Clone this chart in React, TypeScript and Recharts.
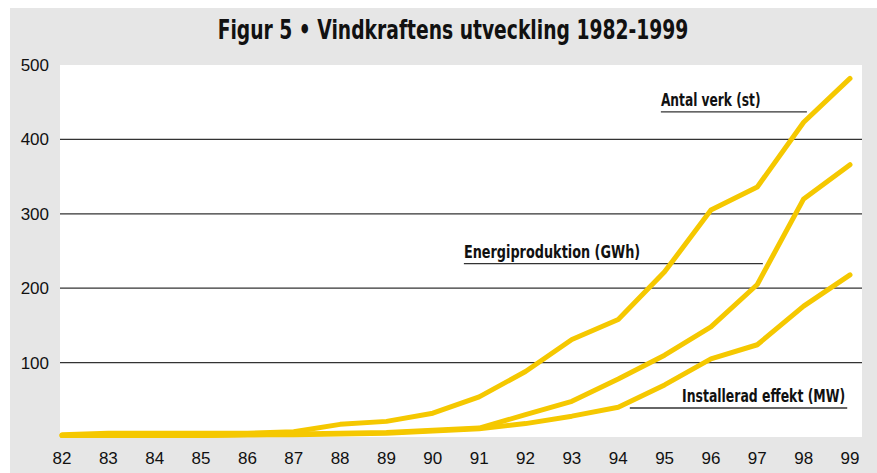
import { LineChart, Line, XAxis, YAxis, CartesianGrid, ReferenceLine } from "recharts";

// År (82 = 1982)
const years = [82, 83, 84, 85, 86, 87, 88, 89, 90, 91, 92, 93, 94, 95, 96, 97, 98, 99];

// Antal verk (st)
const antalVerk = [3, 5, 5, 5, 5, 7, 17, 21, 32, 54, 88, 131, 158, 222, 305, 336, 423, 482];
// Energiproduktion (GWh)
const energi = [2, 2, 2, 2, 3, 4, 5, 6, 9, 12, 30, 48, 78, 110, 148, 205, 320, 366];
// Installerad effekt (MW)
const effekt = [2, 2, 2, 2, 3, 3, 4, 5, 8, 11, 18, 28, 40, 70, 105, 124, 176, 218];

const yTicks = [100, 200, 300, 400, 500];
const gridValues = [100, 200, 300, 400];

const chartData = years.map((year, i) => ({
  year,
  antal: antalVerk[i],
  energi: energi[i],
  effekt: effekt[i],
}));

const LINE_COLOR = "#f5c800";
const LABEL_FONT = "'DejaVu Sans Condensed', 'Liberation Sans Narrow', sans-serif";
const TICK_FONT = "'Liberation Sans', Arial, sans-serif";

// series labels with their underline, in data units
const annotations = [
  { text: "Antal verk (st)", x1: 94.92, x2: 98.07, y: 437, align: "start", sx: 0.8 },
  { text: "Energiproduktion (GWh)", x1: 90.67, x2: 97.12, y: 233, align: "start", sx: 0.84 },
  { text: "Installerad effekt (MW)", x1: 94.25, x2: 98.94, y: 39, align: "end", sx: 0.815 },
];

function AnnotationLabel(props: any) {
  const { viewBox, text, align, sx } = props;
  if (!viewBox) return null;
  const x = align === "end" ? viewBox.x + viewBox.width - 2 : viewBox.x;
  return (
    <text
      x={0}
      y={0}
      transform={`translate(${x},${viewBox.y - 6}) scale(${sx},1)`}
      textAnchor={align}
      fontFamily={LABEL_FONT}
      fontWeight={700}
      fontSize={17}
      fill="#111"
    >
      {text}
    </text>
  );
}

export default function App() {
  return (
    <div style={{ position: "absolute", left: 0, top: 0, width: 877, height: 473, background: "#fff" }}>
      <div style={{ position: "absolute", left: 10, top: 8, width: 867, height: 465, background: "#e6e6e6" }} />
      <div
        style={{
          position: "absolute",
          left: 453,
          top: 15,
          transform: "translateX(-50%) scaleX(0.8)",
          whiteSpace: "nowrap",
          fontFamily: LABEL_FONT,
          fontWeight: 700,
          fontSize: 26,
          color: "#111",
        }}
      >
        Figur 5 • Vindkraftens utveckling 1982-1999
      </div>
      <div style={{ position: "absolute", left: 0, top: 0 }}>
        <LineChart
          width={877}
          height={473}
          data={chartData}
          margin={{ top: 65, right: 15, bottom: 0, left: 0 }}
        >
          <CartesianGrid
            fill="#fff"
            vertical={false}
            horizontalValues={gridValues}
            stroke="#333"
            strokeWidth={1.2}
          />
          <XAxis
            dataKey="year"
            type="number"
            domain={[82, 99]}
            ticks={years}
            interval={0}
            height={36}
            padding={{ left: 2, right: 12 }}
            axisLine={false}
            tickLine={false}
            tickSize={0}
            tickMargin={15}
            tick={{ fill: "#111", fontSize: 17, fontFamily: TICK_FONT }}
          />
          <YAxis
            type="number"
            domain={[0, 500]}
            ticks={yTicks}
            width={60}
            axisLine={false}
            tickLine={false}
            tickSize={0}
            tickMargin={11}
            tick={{ fill: "#111", fontSize: 17, fontFamily: TICK_FONT }}
          />
          {annotations.map((a) => (
            <ReferenceLine
              key={a.text}
              segment={[
                { x: a.x1, y: a.y },
                { x: a.x2, y: a.y },
              ]}
              stroke="#333"
              strokeWidth={1.4}
              ifOverflow="visible"
              label={<AnnotationLabel text={a.text} align={a.align} sx={a.sx} />}
            />
          ))}
          <Line
            dataKey="effekt"
            type="linear"
            stroke={LINE_COLOR}
            strokeWidth={5}
            strokeLinecap="round"
            strokeLinejoin="round"
            dot={false}
            activeDot={false}
            isAnimationActive={false}
          />
          <Line
            dataKey="energi"
            type="linear"
            stroke={LINE_COLOR}
            strokeWidth={5}
            strokeLinecap="round"
            strokeLinejoin="round"
            dot={false}
            activeDot={false}
            isAnimationActive={false}
          />
          <Line
            dataKey="antal"
            type="linear"
            stroke={LINE_COLOR}
            strokeWidth={5}
            strokeLinecap="round"
            strokeLinejoin="round"
            dot={false}
            activeDot={false}
            isAnimationActive={false}
          />
        </LineChart>
      </div>
    </div>
  );
}
